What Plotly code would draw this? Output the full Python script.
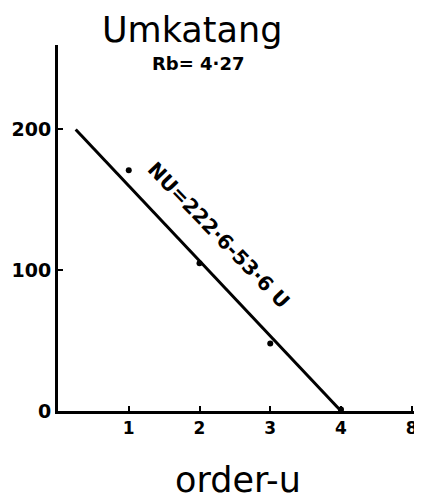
import plotly.graph_objects as go

# observed data: stream order vs number of streams
order_u = [1, 2, 3, 4]
num_streams = [171, 105, 48, 1]

# fitted line as drawn (endpoints)
fit_u = [0.25, 4.0]
fit_n = [200, 0]

x_tickvals = [1, 2, 3, 4, 5]
x_ticktext = ["1", "2", "3", "4", "8"]
y_tickvals = [0, 100, 200]
y_ticktext = ["0", "100", "200"]

FONT = "DejaVu Sans"

# page has an 8px body margin; figure is sized/positioned to compensate
OFF = 8
W, H = 414, 494
l, r, t, b = 49, 4, 37, 91
pw, ph = W - l - r, H - t - b


def px(x, y):
    """page pixel -> paper coords"""
    return (x - OFF - l) / pw, 1 - (y - OFF - t) / ph


fig = go.Figure()
fig.add_trace(go.Scatter(x=fit_u, y=fit_n, mode="lines",
                         line=dict(color="black", width=3), showlegend=False))
fig.add_trace(go.Scatter(x=order_u, y=num_streams, mode="markers",
                         marker=dict(color="black", size=6), showlegend=False))

ax, ay = px(219, 235)
fig.add_annotation(x=ax, y=ay, xref="paper", yref="paper", text="NU=222·6-53·6 U",
                   textangle=46, showarrow=False, xanchor="center", yanchor="middle",
                   font=dict(family=FONT, size=20, color="black", weight="bold"))
ax, ay = px(192, 30)
fig.add_annotation(x=ax, y=ay, xref="paper", yref="paper", text="Umkatang",
                   showarrow=False, xanchor="center", yanchor="middle",
                   font=dict(family=FONT, size=35, color="black"))
ax, ay = px(199, 64)
fig.add_annotation(x=ax, y=ay, xref="paper", yref="paper", text="Rb= 4·27",
                   showarrow=False, xanchor="center", yanchor="middle",
                   font=dict(family=FONT, size=18, color="black", weight="bold"))
ax, ay = px(239, 480)
fig.add_annotation(x=ax, y=ay, xref="paper", yref="paper", text="order-u",
                   showarrow=False, xanchor="center", yanchor="middle",
                   font=dict(family=FONT, size=35, color="black"))

fig.update_layout(
    width=W, height=H,
    margin=dict(l=l, r=r, t=t, b=b),
    paper_bgcolor="white", plot_bgcolor="white",
    font=dict(family=FONT, color="black"),
)

fig.update_xaxes(range=[0, 5.06], showline=True, linecolor="black", linewidth=3,
                 showgrid=False, zeroline=False, ticks="inside", ticklen=5, tickwidth=2,
                 tickcolor="black", tickvals=x_tickvals, ticktext=x_ticktext,
                 tickfont=dict(family=FONT, size=17, color="black", weight="bold"))
fig.update_yaxes(range=[0, 260], showline=True, linecolor="black", linewidth=3,
                 showgrid=False, zeroline=False, ticks="inside", ticklen=5, tickwidth=2,
                 tickcolor="black", tickvals=y_tickvals, ticktext=y_ticktext,
                 tickfont=dict(family=FONT, size=19, color="black", weight="bold"))

fig.write_html("out.html")
